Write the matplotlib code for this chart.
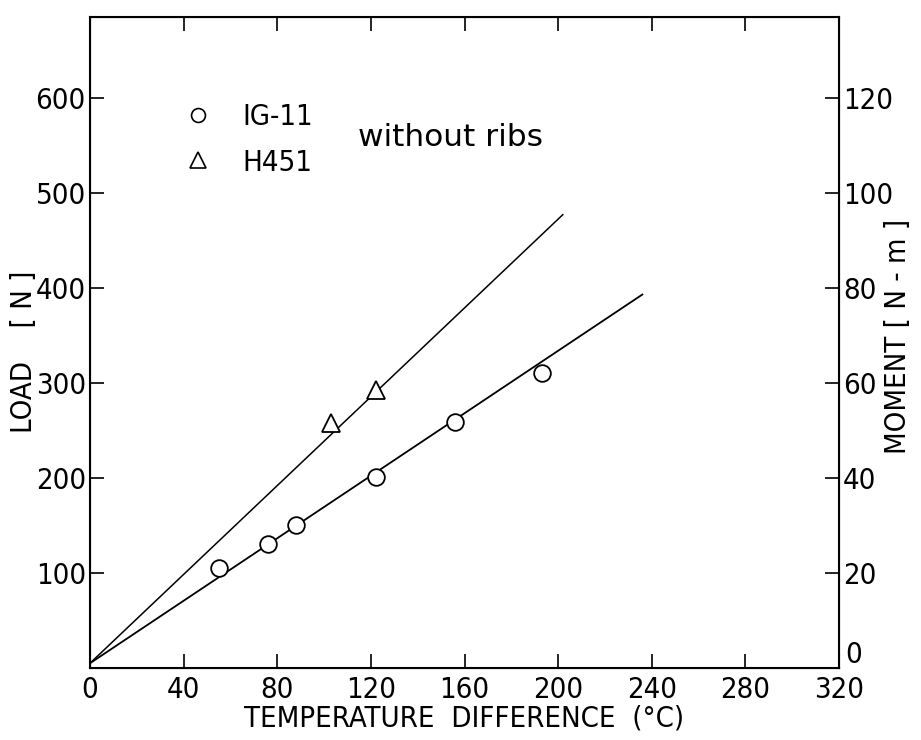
import matplotlib
matplotlib.use("Agg")
import matplotlib.pyplot as plt
from matplotlib.lines import Line2D

plt.rcParams["font.family"] = ["DejaVu Sans"]
plt.rcParams["font.stretch"] = "condensed"
plt.rcParams["font.size"] = 21

# IG-11 data (temperature difference, load)
ig_temp = [55, 76, 88, 122, 156, 193]
ig_load = [105, 131, 150, 201, 259, 310]
ig_fit_temp = [0, 236]
ig_fit_load = [5, 393]

# H451 data
h_temp = [103, 122]
h_load = [258, 292]
h_fit_temp = [0, 202]
h_fit_load = [5, 477]

x_ticks = [0, 40, 80, 120, 160, 200, 240, 280, 320]
load_ticks = [100, 200, 300, 400, 500, 600]
moment_ticks = [20, 40, 60, 80, 100, 120]

fig = plt.figure(figsize=(9.21, 7.40), dpi=100)
ax = fig.add_axes([90 / 921, 72 / 740, 749 / 921, 651 / 740])

ax.plot(ig_fit_temp, ig_fit_load, color="black", lw=1.3)
ax.plot(h_fit_temp, h_fit_load, color="black", lw=1.1)
ax.plot(ig_temp, ig_load, "o", ms=12, mfc="white", mec="black", mew=1.3)
ax.plot(h_temp, h_load, "^", ms=13, mfc="white", mec="black", mew=1.3)

ax.set_xlim(0, 320)
ax.set_ylim(0, 685)
ax.set_xticks(x_ticks)
ax.set_xticklabels([str(t) for t in x_ticks])
ax.set_yticks(load_ticks)
ax.set_yticklabels([str(t) for t in load_ticks])
ax.tick_params(direction="in", length=10, width=1.2, top=True, pad=3)
ax.tick_params(axis="x", pad=6)
for s in ax.spines.values():
    s.set_linewidth(1.5)

ax2 = ax.twinx()
ax2.set_ylim(0, 137)
ax2.set_yticks(moment_ticks)
ax2.set_yticklabels([str(t) for t in moment_ticks])
ax2.tick_params(direction="in", length=10, width=1.2, pad=3)
ax2.text(1.008, 0.02, "0", transform=ax2.transAxes, ha="left", va="center")

ax.set_xlabel("TEMPERATURE  DIFFERENCE  (°C)", labelpad=0)
ax.set_ylabel("LOAD    [ N ]")
ax2.set_ylabel("MOMENT [ N - m ]")
ax.yaxis.set_label_coords(-0.07, 0.485)
ax2.yaxis.set_label_coords(1.06, 0.51)

handles = [
    Line2D([], [], ls="none", marker="o", ms=10, mfc="white", mec="black", mew=1.2),
    Line2D([], [], ls="none", marker="^", ms=11, mfc="white", mec="black", mew=1.2),
]
ax.legend(handles, ["IG-11", "H451"], loc="upper left", bbox_to_anchor=(0.09, 0.908),
          frameon=False, handlelength=1.0, handletextpad=1.0, labelspacing=0.6,
          fontsize=21)
ax.text(0.358, 0.815, "without ribs", transform=ax.transAxes, ha="left", va="center",
        fontsize=22.5, fontstretch="normal")

fig.savefig("out.png", dpi=100)
